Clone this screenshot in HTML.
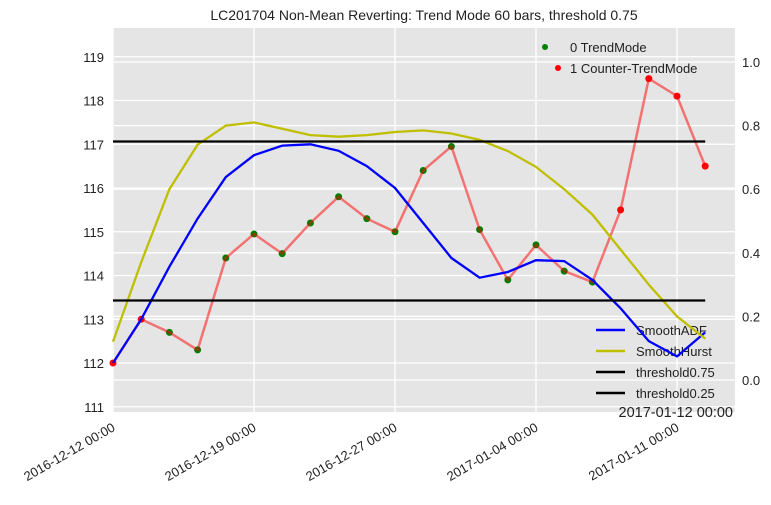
<!DOCTYPE html>
<html><head><meta charset="utf-8"><style>
body{margin:0;background:#fff;}
svg{font-family:"Liberation Sans",Arial,sans-serif;}
</style></head><body>
<svg id="c" width="771" height="500"></svg>
<script>
const dates=["2016-12-12 00:00","2016-12-19 00:00","2016-12-27 00:00","2017-01-04 00:00","2017-01-11 00:00"];
const tickIdx=[0,5,10,15,20];
const price=[112.0,113.0,112.7,112.3,114.4,114.95,114.5,115.2,115.8,115.3,115.0,116.4,116.95,115.05,113.9,114.7,114.1,113.85,115.5,118.5,118.1,116.5];
const mode=[1,1,0,0,0,0,0,0,0,0,0,0,0,0,0,0,0,0,1,1,1,1];
const adf=[112.0,113.0,114.2,115.3,116.25,116.75,116.97,117.0,116.85,116.5,116.0,115.2,114.4,113.95,114.08,114.35,114.33,113.9,113.25,112.5,112.15,112.7];
const hurst=[0.12,0.37,0.6,0.74,0.8,0.81,0.79,0.77,0.765,0.77,0.78,0.785,0.775,0.755,0.72,0.67,0.6,0.52,0.41,0.3,0.2,0.13];
const leftTicks=[111,112,113,114,115,116,117,118,119];
const rightTicks=[0.0,0.2,0.4,0.6,0.8,1.0];
const thresholds=[0.75,0.25];

const L=113,R=735,T=28,B=412;
const X=i=>L+i*28.2;
const YL=v=>363-(v-112)*43.75;
const YR=v=>380-v*318;
const s=document.getElementById('c');
const NS="http://www.w3.org/2000/svg";
function add(tag,a,txt,parent){const e=document.createElementNS(NS,tag);for(const k in a)e.setAttribute(k,a[k]);if(txt!=null)e.textContent=txt;(parent||s).appendChild(e);return e;}

let bg=add('rect',{x:L,y:T,width:R-L,height:B-T,fill:'#e5e5e5'});


leftTicks.forEach(v=>{add('line',{x1:L,x2:R,y1:YL(v),y2:YL(v),stroke:'#fff','stroke-width':1.3});
 let t=add('text',{x:L-9,y:YL(v)+5,'text-anchor':'end','font-size':13,fill:'#222'},v);
 
 });
rightTicks.forEach(v=>{add('line',{x1:L,x2:R,y1:YR(v),y2:YR(v),stroke:'#fff','stroke-width':1.3});
 let t=add('text',{x:R+7,y:YR(v)+5,'font-size':13,fill:'#222'},v.toFixed(1));
 
 });
tickIdx.forEach((ix,k)=>{const x=X(ix);add('line',{x1:x,x2:x,y1:T,y2:B,stroke:'#fff','stroke-width':1.3});
 let t=add('text',{x:0,y:0,'text-anchor':'end','font-size':13,fill:'#222',transform:`translate(${x+3},${B+18}) rotate(-30)`},dates[k]);
 
 });

// legends (under lines)
let lg1=add('g',{});


add('circle',{cx:545,cy:47,r:3,fill:'green'},null,lg1);
add('text',{x:570,y:52,'font-size':13,fill:'#222'},'0 TrendMode',lg1);
add('circle',{cx:558,cy:68,r:3,fill:'red'},null,lg1);
add('text',{x:570,y:73,'font-size':13,fill:'#222'},'1 Counter-TrendMode',lg1);
let lg2=add('g',{});


[['SmoothADF','blue'],['SmoothHurst','#bfbf00'],['threshold0.75','#000'],['threshold0.25','#000']].forEach((d,i)=>{const y=330+i*21;
 add('line',{x1:596,x2:625,y1:y,y2:y,stroke:d[1],'stroke-width':2.5},null,lg2);
 add('text',{x:636,y:y+5,'font-size':13,fill:'#222'},d[0],lg2);});

const path=(arr,f)=>arr.map((v,i)=>(i?'L':'M')+X(i).toFixed(1)+','+f(v).toFixed(1)).join('');
mode.forEach((m,i)=>{let c=add('circle',{cx:X(i),cy:YL(price[i]),r:3.5,fill:m?'red':'green'});
 
 });
let pl=add('path',{d:path(price,YL),fill:'none',stroke:'red','stroke-opacity':0.5,'stroke-width':2.5});


let al=add('path',{d:path(adf,YL),fill:'none',stroke:'blue','stroke-width':2.3});


let hl=add('path',{d:path(hurst,YR),fill:'none',stroke:'#bfbf00','stroke-width':2.3});


thresholds.forEach(v=>{let l=add('line',{x1:L,x2:X(21),y1:YR(v),y2:YR(v),stroke:'#000','stroke-width':2.3});
 
 });

let ti=add('text',{x:424,y:20,'text-anchor':'middle','font-size':14,fill:'#222'},'LC201704 Non-Mean Reverting: Trend Mode 60 bars, threshold 0.75');


let ot=add('text',{x:733,y:417,'text-anchor':'end','font-size':14.5,fill:'#222'},'2017-01-12 00:00');


</script>
</body></html>
